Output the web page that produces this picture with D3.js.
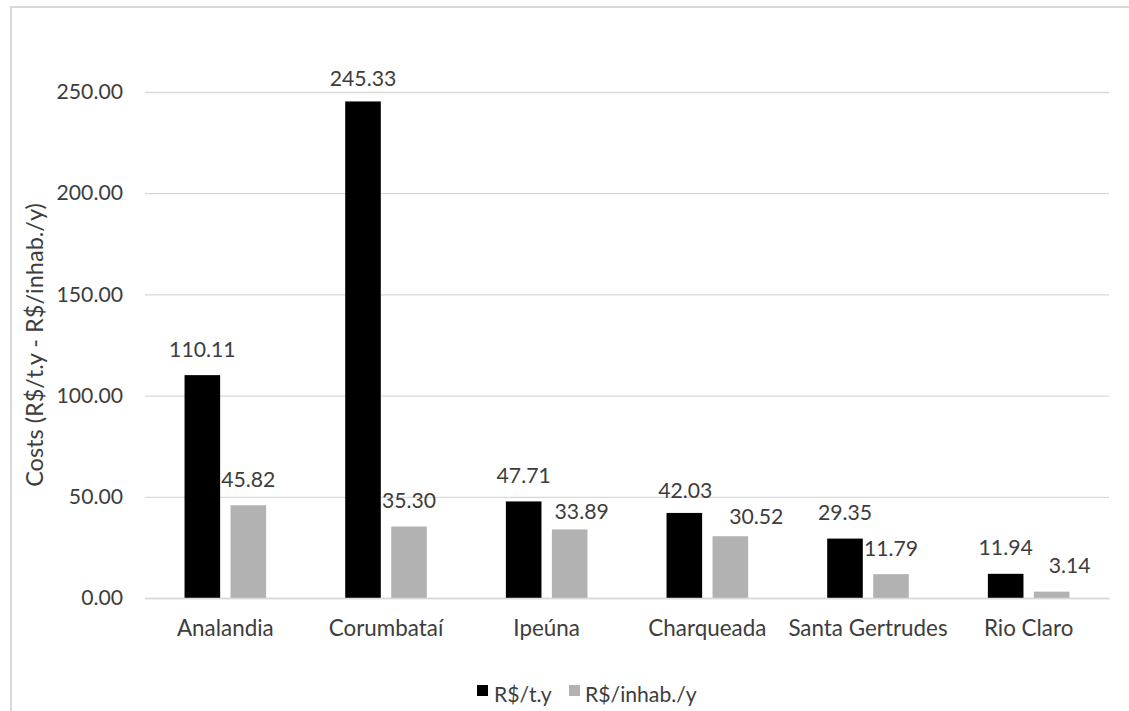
<!DOCTYPE html>
<html>
<head>
<meta charset="utf-8">
<script src="https://cdn.jsdelivr.net/npm/d3@7"></script>
<style>
  html, body { margin: 0; padding: 0; background: #ffffff; }
  svg { display: block; }
  text { font-family: Lato, "Open Sans", sans-serif; fill: #3d3d3d; }
</style>
</head>
<body>
<svg id="chart" width="1129" height="711"></svg>
<script>
// Municipalities along the horizontal axis
const categories = ["Analandia", "Corumbataí", "Ipeúna", "Charqueada", "Santa Gertrudes", "Rio Claro"];
// Series names (legend)
const seriesNames = ["R$/t.y", "R$/inhab./y"];
// Cost per tonne per year
const costPerTonne = [110.11, 245.33, 47.71, 42.03, 29.35, 11.94];
// Cost per inhabitant per year
const costPerInhab = [45.82, 35.30, 33.89, 30.52, 11.79, 3.14];
// Axis ticks
const yTicks = [0, 50, 100, 150, 200, 250];
const yTitle = "Costs (R$/t.y - R$/inhab./y)";

// Presentation
const seriesColors = ["#000000", "#b2b2b2"];
// Label placement tweaks (px) where labels would collide with neighbouring bars
const labelNudge = {
  "2-1": { dx: 12, dy: 8 },
  "3-0": { dx: 1, dy: 4 },
  "3-1": { dx: 26, dy: 6 },
  "5-1": { dx: 18, dy: 0 },
  "1-0": { dx: 0, dy: 3 }
};

const rows = categories.map((c, i) => ({ category: c, values: [costPerTonne[i], costPerInhab[i]] }));

const svg = d3.select("#chart");

// Outer chart frame
svg.append("rect")
  .attr("x", 11).attr("y", 7)
  .attr("width", 1140).attr("height", 720)
  .attr("fill", "none")
  .attr("stroke", "#d9d9d9")
  .attr("stroke-width", 2);

const plot = { left: 145, right: 1109, top: 92, bottom: 598 };

const x0 = d3.scaleBand().domain(categories).range([plot.left, plot.right]).padding(0);
const pairWidth = 81.6;
const x1 = d3.scaleBand()
  .domain([0, 1])
  .range([x0.bandwidth() / 2 - pairWidth / 2, x0.bandwidth() / 2 + pairWidth / 2])
  .paddingInner(0.226);

const y = d3.scaleLinear().domain([0, 250]).range([plot.bottom, plot.top]);

// Gridlines and y tick labels
const yAxis = d3.axisLeft(y)
  .tickValues(yTicks)
  .tickSize(-(plot.right - plot.left))
  .tickPadding(22)
  .tickFormat(d3.format(".2f"));

const gy = svg.append("g")
  .attr("transform", `translate(${plot.left},0)`)
  .call(yAxis);
gy.select(".domain").remove();
gy.selectAll(".tick line").attr("stroke", "#d9d9d9").attr("stroke-width", 1.3);
gy.selectAll(".tick text")
  .attr("font-size", 21.2)
  .attr("fill", "#3d3d3d")
  .style("font-family", "Lato, sans-serif");

// Bars
const groups = svg.append("g").selectAll("g")
  .data(rows)
  .join("g")
  .attr("transform", d => `translate(${x0(d.category)},0)`);

groups.selectAll("rect")
  .data(d => d.values.map((v, s) => ({ v, s })))
  .join("rect")
  .attr("x", d => x1(d.s))
  .attr("width", x1.bandwidth())
  .attr("y", d => y(d.v))
  .attr("height", d => y(0) - y(d.v))
  .attr("fill", d => seriesColors[d.s]);

// Value labels
groups.each(function (row, ci) {
  d3.select(this).selectAll("text.val")
    .data(row.values.map((v, s) => ({ v, s })))
    .join("text")
    .attr("class", "val")
    .attr("text-anchor", "middle")
    .attr("font-size", 21.2)
    .attr("x", d => x1(d.s) + x1.bandwidth() / 2 + ((labelNudge[ci + "-" + d.s] || {}).dx || 0))
    .attr("y", d => y(d.v) - 18.5 + ((labelNudge[ci + "-" + d.s] || {}).dy || 0))
    .text(d => d3.format(".2f")(d.v));
});

// Category axis labels
const gx = svg.append("g")
  .attr("transform", `translate(0,${plot.bottom})`)
  .call(d3.axisBottom(x0).tickSize(0).tickPadding(0));
gx.select(".domain").attr("stroke", "#d9d9d9").attr("stroke-width", 1.3);
gx.selectAll(".tick text")
  .attr("font-size", 22.4)
  .attr("fill", "#3d3d3d")
  .attr("dy", null)
  .attr("y", 38)
  .style("font-family", "Lato, sans-serif");

// Y axis title
svg.append("text")
  .attr("transform", `translate(43,${(plot.top + plot.bottom) / 2}) rotate(-90)`)
  .attr("text-anchor", "middle")
  .attr("font-size", 23.5)
  .text(yTitle);

// Legend
const legendItems = [
  { name: seriesNames[0], color: seriesColors[0], sx: 477, tx: 494 },
  { name: seriesNames[1], color: seriesColors[1], sx: 569, tx: 585 }
];
const lg = svg.append("g");
legendItems.forEach(it => {
  lg.append("rect")
    .attr("x", it.sx).attr("y", 685)
    .attr("width", 11).attr("height", 11)
    .attr("fill", it.color);
  lg.append("text")
    .attr("x", it.tx).attr("y", 702)
    .attr("font-size", 21.2)
    .text(it.name);
});
</script>
</body>
</html>
